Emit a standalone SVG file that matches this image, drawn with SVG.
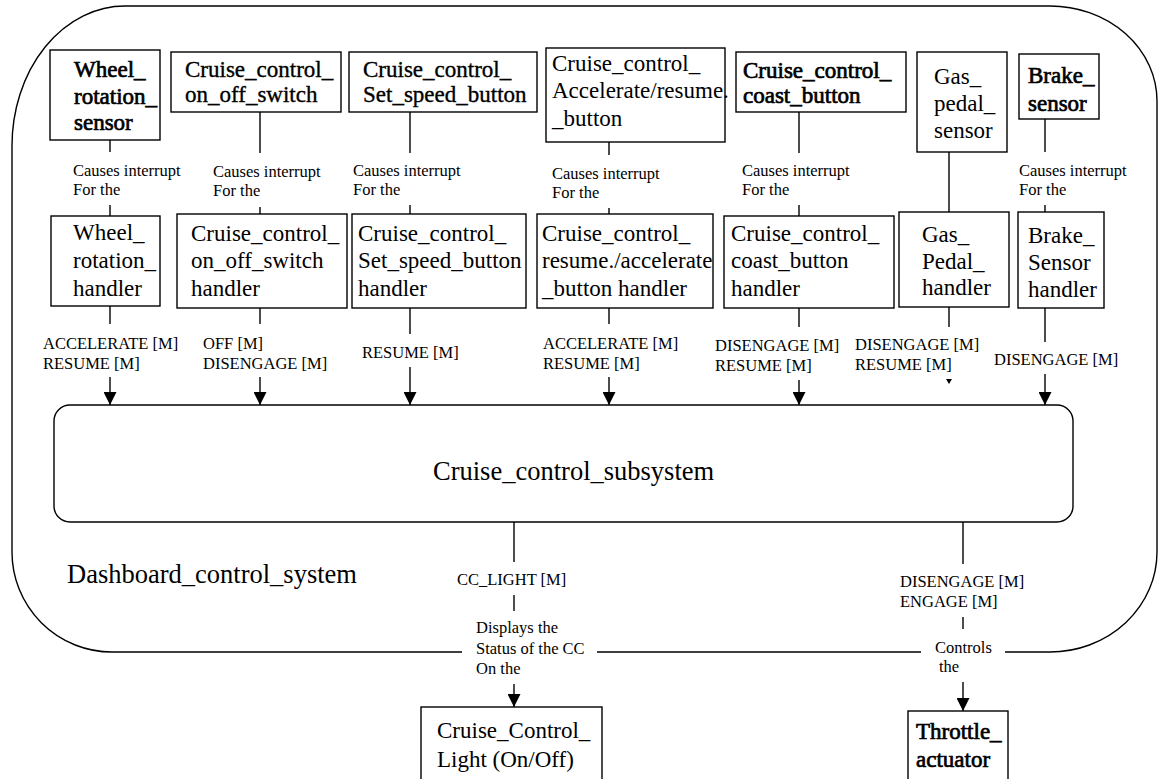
<svg xmlns="http://www.w3.org/2000/svg" width="1160" height="779" viewBox="0 0 1160 779">
<style>
  text { font-family: "Liberation Serif", "Times New Roman", serif; fill: #000; }
  .n { font-size: 23px; }
  .b { font-size: 23px; stroke: #000; stroke-width: 0.7px; }
  .sb { font-size: 23px; stroke: #000; stroke-width: 0.35px; }
  .big { font-size: 26.5px; }
  .s { font-size: 16.5px; }
  .box { fill: #fff; stroke: #000; stroke-width: 1.4; }
  .ln { fill: none; stroke: #000; stroke-width: 1.4; }
</style>
<defs>
  <marker id="ah" viewBox="0 0 13 13" refX="13" refY="6.5" markerWidth="13" markerHeight="13" markerUnits="userSpaceOnUse" orient="auto">
    <path d="M0,0 L13,6.5 L0,13 Z" fill="#000"/>
  </marker>
</defs>
<rect width="1160" height="779" fill="#fff"/>

<g id="dashboard_control_system">
  <path class="ln" d="M12,552 L12,146 A113,140 0 0 1 125,6 L1050,6 A107,95 0 0 1 1157,101 L1157,552 A107,100 0 0 1 1050,652 L1005,652 M921,652 L597,652 M462,652 L112,652 A100,100 0 0 1 12,552"/>
  <text class="big" x="67" y="583">Dashboard_control_system</text>
</g>

<g id="connectors">
  <!-- sensor to interrupt labels -->
  <line class="ln" x1="110" y1="140" x2="110" y2="152"/>
  <line class="ln" x1="260" y1="112" x2="260" y2="153"/>
  <line class="ln" x1="410" y1="112" x2="410" y2="153"/>
  <line class="ln" x1="609" y1="142" x2="609" y2="155"/>
  <line class="ln" x1="799" y1="112" x2="799" y2="153"/>
  <line class="ln" x1="949" y1="152" x2="949" y2="212"/>
  <line class="ln" x1="1045" y1="119" x2="1045" y2="152"/>
  <!-- labels to handlers -->
  <line class="ln" x1="110" y1="205" x2="110" y2="216"/>
  <line class="ln" x1="260" y1="207" x2="260" y2="214"/>
  <line class="ln" x1="410" y1="205" x2="410" y2="214"/>
  <line class="ln" x1="609" y1="208" x2="609" y2="214"/>
  <line class="ln" x1="799" y1="205" x2="799" y2="216"/>
  <line class="ln" x1="1045" y1="205" x2="1045" y2="212"/>
  <!-- handlers to message labels -->
  <line class="ln" x1="110" y1="306" x2="110" y2="324"/>
  <line class="ln" x1="260" y1="308" x2="260" y2="324"/>
  <line class="ln" x1="410" y1="308" x2="410" y2="334"/>
  <line class="ln" x1="609" y1="308" x2="609" y2="324"/>
  <line class="ln" x1="799" y1="308" x2="799" y2="327"/>
  <line class="ln" x1="949" y1="307" x2="949" y2="327"/>
  <line class="ln" x1="1045" y1="308" x2="1045" y2="342"/>
  <!-- arrows into subsystem -->
  <line class="ln" x1="110" y1="377" x2="110" y2="405" marker-end="url(#ah)"/>
  <line class="ln" x1="260" y1="377" x2="260" y2="405" marker-end="url(#ah)"/>
  <line class="ln" x1="410" y1="367" x2="410" y2="405" marker-end="url(#ah)"/>
  <line class="ln" x1="609" y1="377" x2="609" y2="405" marker-end="url(#ah)"/>
  <line class="ln" x1="799" y1="380" x2="799" y2="405" marker-end="url(#ah)"/>
  <polygon points="946,379 952,379 949,384" fill="#000"/>
  <line class="ln" x1="1045" y1="374" x2="1045" y2="405" marker-end="url(#ah)"/>
  <!-- subsystem outputs -->
  <line class="ln" x1="514" y1="522" x2="514" y2="562"/>
  <line class="ln" x1="514" y1="595" x2="514" y2="611"/>
  <line class="ln" x1="514" y1="684" x2="514" y2="707" marker-end="url(#ah)"/>
  <line class="ln" x1="963" y1="522" x2="963" y2="564"/>
  <line class="ln" x1="963" y1="617" x2="963" y2="629"/>
  <line class="ln" x1="963" y1="682" x2="963" y2="711" marker-end="url(#ah)"/>

  <!-- connector labels -->
  <g class="s">
    <text class="s" x="73" y="176">Causes interrupt</text><text class="s" x="73" y="195">For the</text>
    <text class="s" x="213" y="177">Causes interrupt</text><text class="s" x="213" y="196">For the</text>
    <text class="s" x="353" y="176">Causes interrupt</text><text class="s" x="353" y="195">For the</text>
    <text class="s" x="552" y="179">Causes interrupt</text><text class="s" x="552" y="198">For the</text>
    <text class="s" x="742" y="176">Causes interrupt</text><text class="s" x="742" y="195">For the</text>
    <text class="s" x="1019" y="176">Causes interrupt</text><text class="s" x="1019" y="195">For the</text>

    <text class="s" x="43" y="349">ACCELERATE [M]</text><text class="s" x="43" y="369">RESUME [M]</text>
    <text class="s" x="203" y="349">OFF [M]</text><text class="s" x="203" y="369">DISENGAGE [M]</text>
    <text class="s" x="362" y="358">RESUME [M]</text>
    <text class="s" x="543" y="349">ACCELERATE [M]</text><text class="s" x="543" y="369">RESUME [M]</text>
    <text class="s" x="715" y="351">DISENGAGE [M]</text><text class="s" x="715" y="371">RESUME [M]</text>
    <text class="s" x="855" y="350">DISENGAGE [M]</text><text class="s" x="855" y="370">RESUME [M]</text>
    <text class="s" x="994" y="365">DISENGAGE [M]</text>

    <text class="s" x="457" y="585">CC_LIGHT [M]</text>
    <text class="s" x="476" y="633">Displays the</text>
    <text class="s" x="476" y="654">Status of the CC</text>
    <text class="s" x="476" y="674">On the</text>

    <text class="s" x="900" y="587">DISENGAGE [M]</text>
    <text class="s" x="900" y="607">ENGAGE [M]</text>
    <text class="s" x="935" y="653">Controls</text>
    <text class="s" x="939" y="672">the</text>
  </g>
</g>

<!-- sensors / inputs -->
<g id="wheel_rotation_sensor">
  <rect class="box" x="50" y="50" width="110" height="90"/>
  <text class="b" x="74" y="77">Wheel_</text>
  <text class="b" x="74" y="104">rotation_</text>
  <text class="b" x="74" y="130">sensor</text>
</g>
<g id="cc_on_off_switch">
  <rect class="box" x="171" y="52" width="170" height="60"/>
  <text class="sb" x="185" y="77">Cruise_control_</text>
  <text class="sb" x="185" y="102">on_off_switch</text>
</g>
<g id="cc_set_speed_button">
  <rect class="box" x="349" y="52" width="188" height="60"/>
  <text class="sb" x="363" y="77">Cruise_control_</text>
  <text class="sb" x="363" y="102">Set_speed_button</text>
</g>
<g id="cc_accelerate_resume_button">
  <rect class="box" x="546" y="48" width="179" height="94"/>
  <text class="n" x="552" y="71">Cruise_control_</text>
  <text class="n" x="552" y="98">Accelerate/resume.</text>
  <text class="n" x="552" y="126">_button</text>
</g>
<g id="cc_coast_button">
  <rect class="box" x="736" y="52" width="170" height="60"/>
  <text class="b" x="743" y="78">Cruise_control_</text>
  <text class="b" x="743" y="103">coast_button</text>
</g>
<g id="gas_pedal_sensor">
  <rect class="box" x="917" y="52" width="90" height="100"/>
  <text class="n" x="934" y="84">Gas_</text>
  <text class="n" x="934" y="111">pedal_</text>
  <text class="n" x="934" y="138">sensor</text>
</g>
<g id="brake_sensor">
  <rect class="box" x="1019" y="54" width="80" height="65"/>
  <text class="b" x="1028" y="83">Brake_</text>
  <text class="b" x="1028" y="111">sensor</text>
</g>

<!-- handlers -->
<g id="wheel_rotation_handler">
  <rect class="box" x="51" y="216" width="109" height="90"/>
  <text class="n" x="73" y="240">Wheel_</text>
  <text class="n" x="73" y="268">rotation_</text>
  <text class="n" x="73" y="296">handler</text>
</g>
<g id="cc_on_off_switch_handler">
  <rect class="box" x="177" y="214" width="170" height="94"/>
  <text class="n" x="191" y="241">Cruise_control_</text>
  <text class="n" x="191" y="268">on_off_switch</text>
  <text class="n" x="191" y="296">handler</text>
</g>
<g id="cc_set_speed_button_handler">
  <rect class="box" x="352" y="214" width="174" height="94"/>
  <text class="n" x="358" y="241">Cruise_control_</text>
  <text class="n" x="358" y="268">Set_speed_button</text>
  <text class="n" x="358" y="296">handler</text>
</g>
<g id="cc_resume_accelerate_button_handler">
  <rect class="box" x="537" y="214" width="176" height="94"/>
  <text class="n" x="542" y="241">Cruise_control_</text>
  <text class="n" x="542" y="268">resume./accelerate</text>
  <text class="n" x="542" y="296">_button handler</text>
</g>
<g id="cc_coast_button_handler">
  <rect class="box" x="724" y="216" width="170" height="92"/>
  <text class="n" x="731" y="241">Cruise_control_</text>
  <text class="n" x="731" y="268">coast_button</text>
  <text class="n" x="731" y="296">handler</text>
</g>
<g id="gas_pedal_handler">
  <rect class="box" x="899" y="212" width="110" height="95"/>
  <text class="n" x="922" y="242">Gas_</text>
  <text class="n" x="922" y="269">Pedal_</text>
  <text class="n" x="922" y="295">handler</text>
</g>
<g id="brake_sensor_handler">
  <rect class="box" x="1018" y="212" width="86" height="96"/>
  <text class="n" x="1028" y="243">Brake_</text>
  <text class="n" x="1028" y="270">Sensor</text>
  <text class="n" x="1028" y="297">handler</text>
</g>

<!-- subsystem -->
<g id="cruise_control_subsystem">
  <rect class="box" x="54" y="405" width="1019" height="117" rx="16" ry="16"/>
  <text class="big" x="433" y="480">Cruise_control_subsystem</text>
</g>

<!-- outputs -->
<g id="cruise_control_light">
  <rect class="box" x="421" y="707" width="181" height="90"/>
  <text class="n" x="437" y="738">Cruise_Control_</text>
  <text class="n" x="437" y="767">Light (On/Off)</text>
</g>
<g id="throttle_actuator">
  <rect class="box" x="908" y="711" width="100" height="90"/>
  <text class="b" x="916" y="739">Throttle_</text>
  <text class="b" x="916" y="767">actuator</text>
</g>
</svg>
